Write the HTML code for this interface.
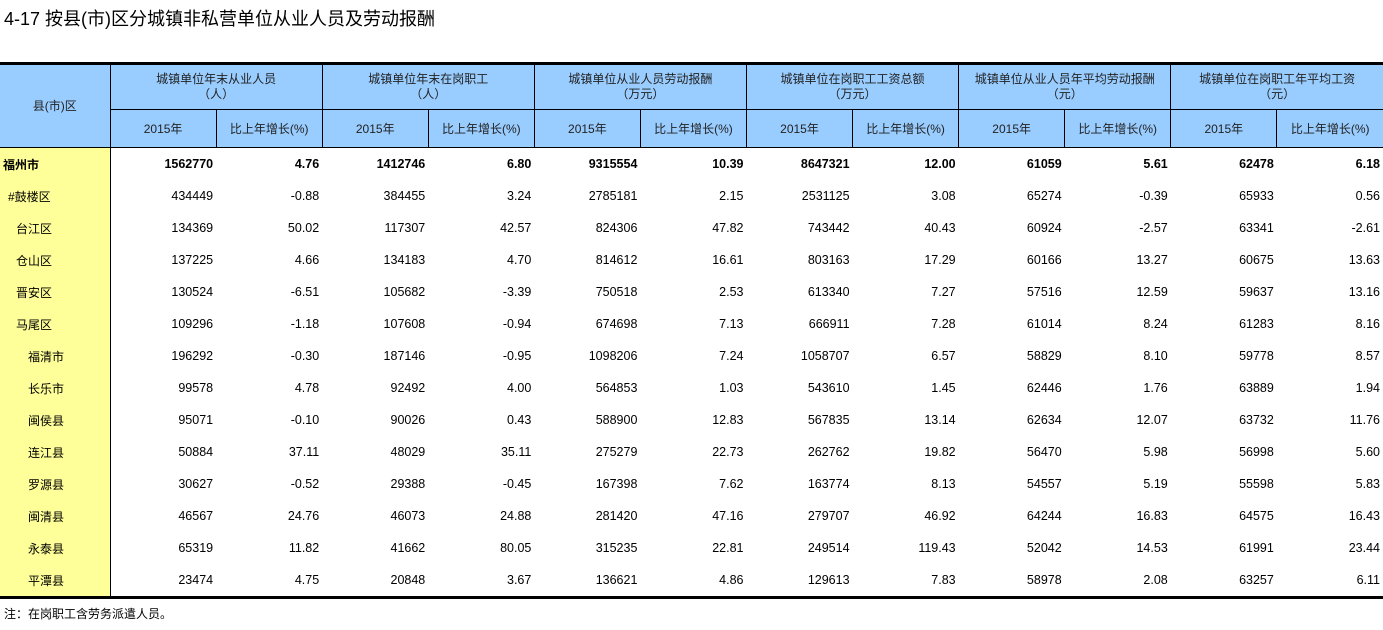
<!DOCTYPE html>
<html><head><meta charset="utf-8"><style>
body{margin:0;width:1383px;height:630px;background:#fff;font-family:"Liberation Sans","Noto Sans CJK SC",sans-serif;position:relative;overflow:hidden}
.t{position:absolute;left:4px;top:5px;font-size:18px;color:#000;white-space:nowrap}
table{position:absolute;left:0;top:62px;border-collapse:collapse;table-layout:fixed;width:1383px;font-size:12px}
td{padding:0 3px;white-space:nowrap;overflow:hidden}
.h td{background:#99CCFF;text-align:center;border:1px solid #000;color:#222}
tr.h1 td{height:44px;line-height:15px}
tr.h2 td{height:37px}
tr.d td{height:32px;text-align:right;font-size:12.5px}
tr.d td.n{background:#FFFF99;text-align:left;border-right:1px solid #000;font-size:12px}
b{font-weight:bold}
.note{position:absolute;left:4px;top:605px;font-size:12px}
</style></head><body>
<div class="t">4-17 按县(市)区分城镇非私营单位从业人员及劳动报酬</div>
<table>
<colgroup><col style="width:110px"><col span="12" style="width:106px"></colgroup>
<tr class="h h1" style="border-top:3px solid #000"><td rowspan="2" style="border-left:none">县(市)区</td>
<td colspan="2">城镇单位年末从业人员<br>（人）</td>
<td colspan="2">城镇单位年末在岗职工<br>（人）</td>
<td colspan="2">城镇单位从业人员劳动报酬<br>（万元）</td>
<td colspan="2">城镇单位在岗职工工资总额<br>（万元）</td>
<td colspan="2">城镇单位从业人员年平均劳动报酬<br>（元）</td>
<td colspan="2" style="border-right:none">城镇单位在岗职工年平均工资<br>（元）</td></tr>
<tr class="h h2"><td>2015年</td><td>比上年增长(%)</td><td>2015年</td><td>比上年增长(%)</td><td>2015年</td><td>比上年增长(%)</td><td>2015年</td><td>比上年增长(%)</td><td>2015年</td><td>比上年增长(%)</td><td>2015年</td><td style="border-right:none">比上年增长(%)</td></tr>
<tr class="d" style="font-weight:bold"><td class="n">福州市</td><td>1562770</td><td>4.76</td><td>1412746</td><td>6.80</td><td>9315554</td><td>10.39</td><td>8647321</td><td>12.00</td><td>61059</td><td>5.61</td><td>62478</td><td>6.18</td></tr>
<tr class="d"><td class="n" style="padding-left:8px">#鼓楼区</td><td>434449</td><td>-0.88</td><td>384455</td><td>3.24</td><td>2785181</td><td>2.15</td><td>2531125</td><td>3.08</td><td>65274</td><td>-0.39</td><td>65933</td><td>0.56</td></tr>
<tr class="d"><td class="n" style="padding-left:16px">台江区</td><td>134369</td><td>50.02</td><td>117307</td><td>42.57</td><td>824306</td><td>47.82</td><td>743442</td><td>40.43</td><td>60924</td><td>-2.57</td><td>63341</td><td>-2.61</td></tr>
<tr class="d"><td class="n" style="padding-left:16px">仓山区</td><td>137225</td><td>4.66</td><td>134183</td><td>4.70</td><td>814612</td><td>16.61</td><td>803163</td><td>17.29</td><td>60166</td><td>13.27</td><td>60675</td><td>13.63</td></tr>
<tr class="d"><td class="n" style="padding-left:16px">晋安区</td><td>130524</td><td>-6.51</td><td>105682</td><td>-3.39</td><td>750518</td><td>2.53</td><td>613340</td><td>7.27</td><td>57516</td><td>12.59</td><td>59637</td><td>13.16</td></tr>
<tr class="d"><td class="n" style="padding-left:16px">马尾区</td><td>109296</td><td>-1.18</td><td>107608</td><td>-0.94</td><td>674698</td><td>7.13</td><td>666911</td><td>7.28</td><td>61014</td><td>8.24</td><td>61283</td><td>8.16</td></tr>
<tr class="d"><td class="n" style="padding-left:28px">福清市</td><td>196292</td><td>-0.30</td><td>187146</td><td>-0.95</td><td>1098206</td><td>7.24</td><td>1058707</td><td>6.57</td><td>58829</td><td>8.10</td><td>59778</td><td>8.57</td></tr>
<tr class="d"><td class="n" style="padding-left:28px">长乐市</td><td>99578</td><td>4.78</td><td>92492</td><td>4.00</td><td>564853</td><td>1.03</td><td>543610</td><td>1.45</td><td>62446</td><td>1.76</td><td>63889</td><td>1.94</td></tr>
<tr class="d"><td class="n" style="padding-left:28px">闽侯县</td><td>95071</td><td>-0.10</td><td>90026</td><td>0.43</td><td>588900</td><td>12.83</td><td>567835</td><td>13.14</td><td>62634</td><td>12.07</td><td>63732</td><td>11.76</td></tr>
<tr class="d"><td class="n" style="padding-left:28px">连江县</td><td>50884</td><td>37.11</td><td>48029</td><td>35.11</td><td>275279</td><td>22.73</td><td>262762</td><td>19.82</td><td>56470</td><td>5.98</td><td>56998</td><td>5.60</td></tr>
<tr class="d"><td class="n" style="padding-left:28px">罗源县</td><td>30627</td><td>-0.52</td><td>29388</td><td>-0.45</td><td>167398</td><td>7.62</td><td>163774</td><td>8.13</td><td>54557</td><td>5.19</td><td>55598</td><td>5.83</td></tr>
<tr class="d"><td class="n" style="padding-left:28px">闽清县</td><td>46567</td><td>24.76</td><td>46073</td><td>24.88</td><td>281420</td><td>47.16</td><td>279707</td><td>46.92</td><td>64244</td><td>16.83</td><td>64575</td><td>16.43</td></tr>
<tr class="d"><td class="n" style="padding-left:28px">永泰县</td><td>65319</td><td>11.82</td><td>41662</td><td>80.05</td><td>315235</td><td>22.81</td><td>249514</td><td>119.43</td><td>52042</td><td>14.53</td><td>61991</td><td>23.44</td></tr>
<tr class="d" style="border-bottom:3px solid #000"><td class="n" style="padding-left:28px">平潭县</td><td>23474</td><td>4.75</td><td>20848</td><td>3.67</td><td>136621</td><td>4.86</td><td>129613</td><td>7.83</td><td>58978</td><td>2.08</td><td>63257</td><td>6.11</td></tr>
</table>
<div class="note">注：在岗职工含劳务派遣人员。</div>
</body></html>
